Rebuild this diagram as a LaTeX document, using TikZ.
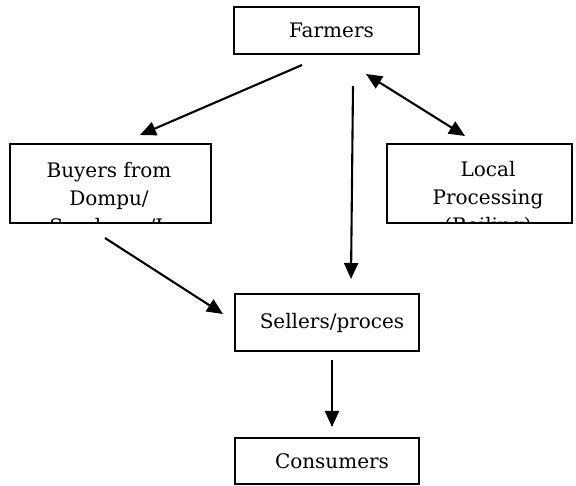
\documentclass[tikz,border=0pt]{standalone}
\usepackage{fontspec}
\setmainfont{DejaVu Serif}
\usetikzlibrary{arrows.meta}
\begin{document}
\begin{tikzpicture}[x=1pt,y=-1pt,
  labelfont/.style={font=\fontsize{20pt}{28pt}\selectfont},
  box/.style={draw,rectangle,line width=1.6pt,inner sep=0pt,labelfont},
  % single-line labels sit a little right of the box centre
  rightbox/.style={box,execute at begin node=\hspace*{10pt}},
  boxtext/.style={labelfont,align=center,inner sep=0pt,anchor=north},
  conn/.style={line width=2.1pt,-{Triangle[length=16pt,width=14pt]}},
  conntwo/.style={line width=2.1pt,{Triangle[length=16pt,width=14pt]}-{Triangle[length=16pt,width=14pt]}}]
\useasboundingbox (0,0) rectangle (576,486);

% boxes
\node[rightbox,minimum width=185pt,minimum height=47pt] (farmers) at (326.5,30.5) {Farmers};
\node[box,minimum width=201pt,minimum height=79pt] (buyers) at (110.5,183.5) {};
\node[box,minimum width=185pt,minimum height=79pt] (local) at (479.5,183.5) {};
\node[rightbox,minimum width=184pt,minimum height=57pt] (sellers) at (327,322.5) {Sellers/proces};
\node[rightbox,minimum width=184pt,minimum height=46pt] (consumers) at (327,461) {Consumers};

% text of the two tall boxes, cut off at the box edges
\begin{scope}
  \clip ([shift={(0.8pt,0.8pt)}]buyers.south west) rectangle ([shift={(-0.8pt,-0.8pt)}]buyers.north east);
  \node[boxtext] (buyerstext) at (109,161.8) {Buyers from\\Dompu/\\Sumbawa/L};
\end{scope}
\begin{scope}
  \clip ([shift={(0.8pt,0.8pt)}]local.south west) rectangle ([shift={(-0.8pt,-0.8pt)}]local.north east);
  \node[boxtext] (localtext) at (488,160.8) {Local\\Processing\\(Boiling)};
\end{scope}

% connector end points
\coordinate (a1s) at (302,65);
\coordinate (a1e) at (140,135);
\coordinate (a2s) at (353,86);
\coordinate (a2e) at (351,279);
\coordinate (a3s) at (366,74);
\coordinate (a3e) at (465,136);
\coordinate (a4s) at (105,238);
\coordinate (a4e) at (223,314);
\coordinate (a5s) at (332,360);
\coordinate (a5e) at (332,427);

% connectors
\draw[conn] (a1s) -- (a1e);
\draw[conn] (a2s) -- (a2e);
\draw[conntwo] (a3s) -- (a3e);
\draw[conn] (a4s) -- (a4e);
\draw[conn] (a5s) -- (a5e);
\end{tikzpicture}
\end{document}
